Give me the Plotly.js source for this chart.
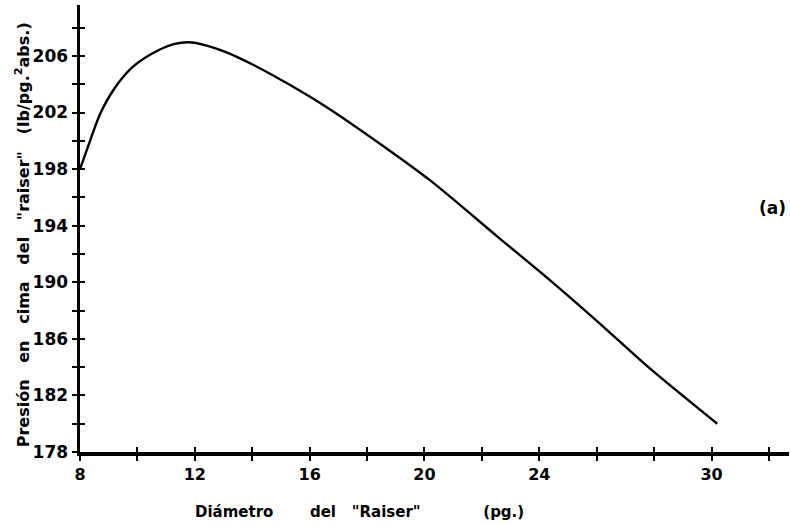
<!DOCTYPE html>
<html>
<head>
<meta charset="utf-8">
<script src="https://cdn.plot.ly/plotly-3.0.1.min.js"></script>
<style>html,body{margin:0;padding:0;background:#fff;}#chart{width:790px;height:527px;}</style>
</head>
<body>
<div id="chart"></div>
<script>
// Diámetro del "Raiser" (pg.)
const diametro = [8.0, 8.35, 8.7, 9.2, 9.8, 10.5, 11.3, 11.9, 12.7, 13.5, 14.7, 16.5, 18.2, 20.2, 22.5, 24.4, 26.1, 27.8, 30.2];
// Presión en cima del "raiser" (lb/pg.² abs.)
const presion = [198.0, 200.0, 201.9, 203.7, 205.15, 206.15, 206.85, 206.95, 206.55, 205.9, 204.65, 202.5, 200.15, 197.2, 193.3, 190.1, 187.1, 184.0, 180.0];

const xLabelVals = [8, 12, 16, 20, 24, 30];
const xLabelText = ["8", "12", "16", "20", "24", "30"];
const xMinorVals = [10, 14, 18, 22, 26, 28, 32];
const yLabelVals = [178, 182, 186, 190, 194, 198, 202, 206];
const yLabelText = ["178", "182", "186", "190", "194", "198", "202", "206"];
const yMinorVals = [180, 184, 188, 192, 196, 200, 204, 208];

const nb = n => "\u00A0".repeat(n);
const xTitle = "Diámetro" + nb(7) + "del" + nb(3) + "\"Raiser\"" + nb(12) + "(pg.)";
const yTitle = "Presión" + nb(3) + "en" + nb(3) + "cima" + nb(3) + "del" + nb(3) + "\"raiser\"" + nb(3) + "(lb/pg.<sup>2</sup>abs.)";
const panelLabel = "(a)";

const fam = "DejaVu Sans, Verdana, sans-serif";
const xRange = [8, 32.7];
const yRange = [178, 209.6];
const tickStyle = {ticklen: 5, tickwidth: 2, tickcolor: "#000"};

const traces = [{
  x: diametro, y: presion, type: "scatter", mode: "lines",
  line: {color: "#000", width: 2.4, shape: "spline", smoothing: 0.8},
  hoverinfo: "skip", showlegend: false
}, {
  x: [xRange[0]], y: [yRange[0]], xaxis: "x2", yaxis: "y2", type: "scatter", mode: "markers",
  marker: {opacity: 0}, hoverinfo: "skip", showlegend: false
}];

const layout = {
  width: 790, height: 527,
  margin: {l: 80, r: 1, t: 5, b: 75},
  paper_bgcolor: "#fff", plot_bgcolor: "#fff",
  font: {family: fam, color: "#000"},
  showlegend: false,
  xaxis: Object.assign({
    range: xRange, showgrid: false, zeroline: false,
    showline: true, linecolor: "#000", linewidth: 3.5,
    tickmode: "array", tickvals: xLabelVals, ticktext: xLabelText,
    ticks: "outside",
    minor: Object.assign({tickmode: "array", tickvals: xMinorVals, ticks: "outside", showgrid: false}, tickStyle),
    tickfont: {family: fam, size: 16, color: "#000", weight: "bold"}
  }, tickStyle),
  xaxis2: Object.assign({
    overlaying: "x", matches: "x", range: xRange, side: "bottom", anchor: "y",
    showgrid: false, zeroline: false, showline: false,
    tickmode: "array", tickvals: xLabelVals.concat(xMinorVals), showticklabels: false,
    ticks: "inside"
  }, tickStyle),
  yaxis: Object.assign({
    range: yRange, showgrid: false, zeroline: false,
    showline: true, linecolor: "#000", linewidth: 3.5,
    tickmode: "array", tickvals: yLabelVals, ticktext: yLabelText,
    ticks: "outside",
    minor: Object.assign({tickmode: "array", tickvals: yMinorVals, ticks: "outside", showgrid: false}, tickStyle),
    tickfont: {family: fam, size: 17, color: "#000", weight: "bold"}
  }, tickStyle),
  yaxis2: Object.assign({
    overlaying: "y", matches: "y", range: yRange, side: "left", anchor: "x",
    showgrid: false, zeroline: false, showline: false,
    tickmode: "array", tickvals: yLabelVals.concat(yMinorVals), showticklabels: false,
    ticks: "inside"
  }, tickStyle),
  annotations: [
    {text: xTitle, xref: "paper", yref: "paper", x: 0.394, y: -0.134,
     xanchor: "center", yanchor: "middle", showarrow: false,
     font: {family: fam, size: 15, color: "#000", weight: "bold"}},
    {text: yTitle, xref: "paper", yref: "paper", x: -0.081, y: 0.486,
     xanchor: "center", yanchor: "middle", textangle: -90, showarrow: false,
     font: {family: fam, size: 16, color: "#000", weight: "bold"}},
    {text: panelLabel, xref: "paper", yref: "paper", x: 0.977, y: 0.546,
     xanchor: "center", yanchor: "middle", showarrow: false,
     font: {family: fam, size: 17, color: "#000", weight: "bold"}}
  ]
};

Plotly.newPlot("chart", traces, layout, {staticPlot: true, displayModeBar: false});
</script>
</body>
</html>
